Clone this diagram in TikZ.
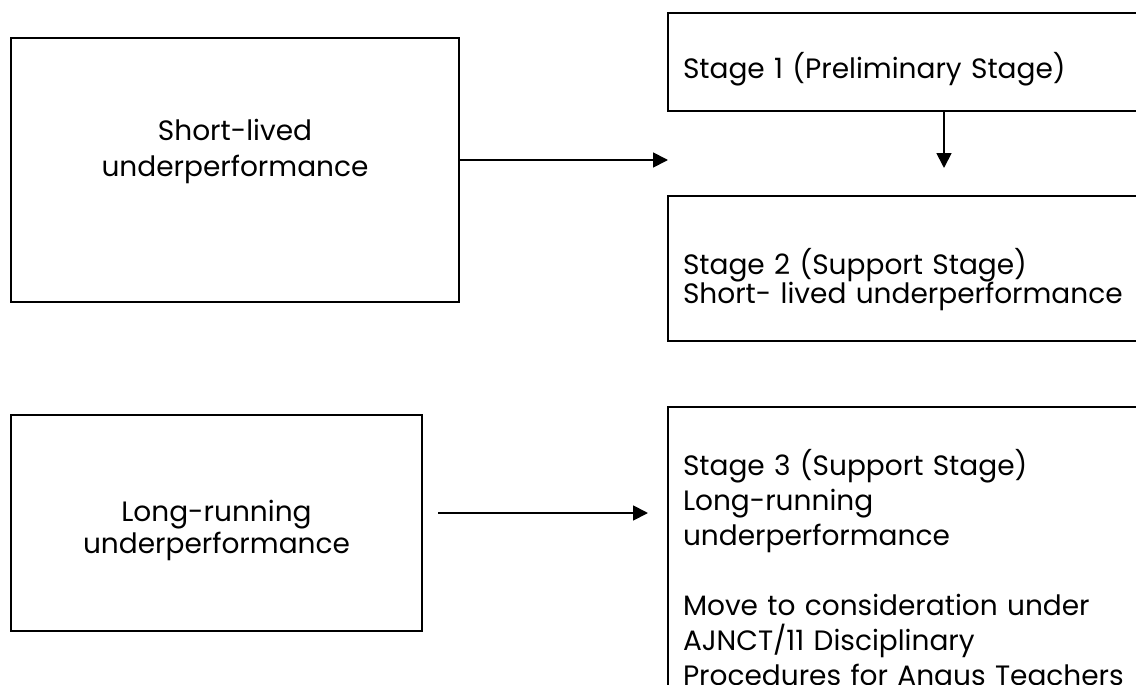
\documentclass[tikz,border=0pt]{standalone}
\usepackage{fontspec}
\setmainfont{Poppins}
\usetikzlibrary{positioning,arrows.meta}

\tikzstyle{cause} = [rectangle, draw=black, line width=2pt, inner sep=0pt, align=center, font=\fontsize{28}{36}\selectfont]
\tikzstyle{stage} = [rectangle, draw=black, line width=2pt, inner xsep=15pt, inner ysep=0pt, text width=460pt, align=left, font=\fontsize{28}{35}\selectfont]
\tikzstyle{arrow} = [line width=1.8pt,-{Triangle[length=15pt,width=15pt]}]

\begin{document}
\begin{tikzpicture}[x=1pt,y=1pt]
\useasboundingbox (0,0) rectangle (1136,-685);

\node (short) [cause, anchor=north west, minimum width=448pt, text height=138pt, text depth=126pt] at (10,-37) {Short-lived\\underperformance};
\node (long) [cause, below right=111pt and 0pt of short.south west, minimum width=411pt, text height=138pt, text depth=78pt, font=\fontsize{28}{32}\selectfont] {Long-running\\underperformance};

\node (stage1) [stage, anchor=north west, text height=65pt, text depth=33pt] at (667,-12) {Stage 1 (Preliminary Stage)};
\node (stage2) [stage, below=83pt of stage1, text height=78pt, text depth=67pt, font=\fontsize{28}{29}\selectfont] {Stage 2 (Support Stage)\\Short- lived underperformance};
\node (stage3) [stage, below=64pt of stage2, text height=68pt, text depth=260pt] {Stage 3 (Support Stage)\\Long-running\\underperformance\\[35pt]Move to consideration under\\AJNCT/11 Disciplinary\\Procedures for Angus Teachers};

\coordinate (shortend) at (668,-160);
\coordinate (downend) at (944,-168);
\coordinate (longstart) at (438,-513);
\coordinate (longend) at (648,-513);

\draw [arrow] (short.east |- shortend) -- (shortend);
\draw [arrow] (stage1.south -| downend) -- (downend);
\draw [arrow] (longstart) -- (longend);

\end{tikzpicture}
\end{document}
